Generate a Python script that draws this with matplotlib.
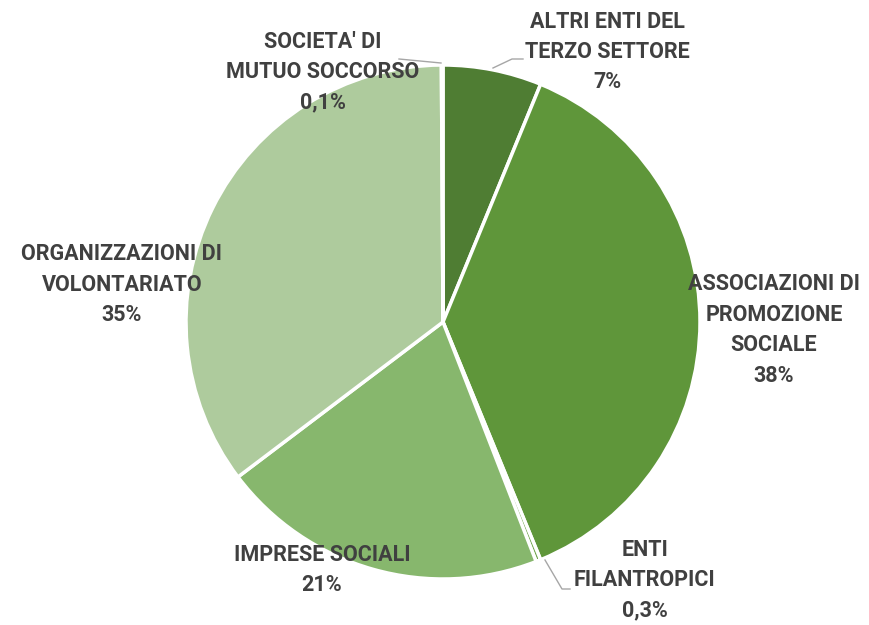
import matplotlib
matplotlib.use("Agg")
import matplotlib.pyplot as plt

categories = ["ALTRI ENTI DEL\nTERZO SETTORE", "ASSOCIAZIONI DI\nPROMOZIONE\nSOCIALE",
              "ENTI\nFILANTROPICI", "IMPRESE SOCIALI", "ORGANIZZAZIONI DI\nVOLONTARIATO",
              "SOCIETA' DI\nMUTUO SOCCORSO"]
values = [6.2, 37.6, 0.3, 20.6, 35.2, 0.1]
pct_labels = ["7%", "38%", "0,3%", "21%", "35%", "0,1%"]
colors = ["#4f7d33", "#5f963a", "#6fa54b", "#87b76d", "#aecb9d", "#c5dbb8"]

W, H = 870, 625
fig = plt.figure(figsize=(8.7, 6.25), dpi=100)
ax = fig.add_axes([0, 0, 1, 1])

cx, cy, r = 443, H - 322, 257
ax.pie(values, colors=colors, startangle=90, counterclock=False, center=(cx, cy),
       radius=r, frame=True, wedgeprops=dict(edgecolor="white", linewidth=2.5))
ax.set_xlim(0, W)
ax.set_ylim(0, H)
ax.set_aspect("equal")
ax.axis("off")

# label positions (pixel coords, y from top)
pos = [(607, 52), (774, 330), (645, 580), (322, 570), (122, 285), (323, 72)]
fam = ["Roboto", "DejaVu Sans"]
for cat, p, (x, y) in zip(categories, pct_labels, pos):
    ax.text(x, H - y, cat + "\n" + p, ha="center", va="center", fontsize=15.5,
            fontweight="bold", color="#404040", family=fam, linespacing=1.5)

# leader lines
lc = "#a6a6a6"
ax.plot([493, 512, 523], [H - 68, H - 59, H - 59], color=lc, lw=1)
ax.plot([545, 562, 570], [H - 560, H - 589, H - 589], color=lc, lw=1)
ax.plot([441, 399], [H - 63, H - 59], color=lc, lw=1)

fig.savefig("out.png", dpi=100)
